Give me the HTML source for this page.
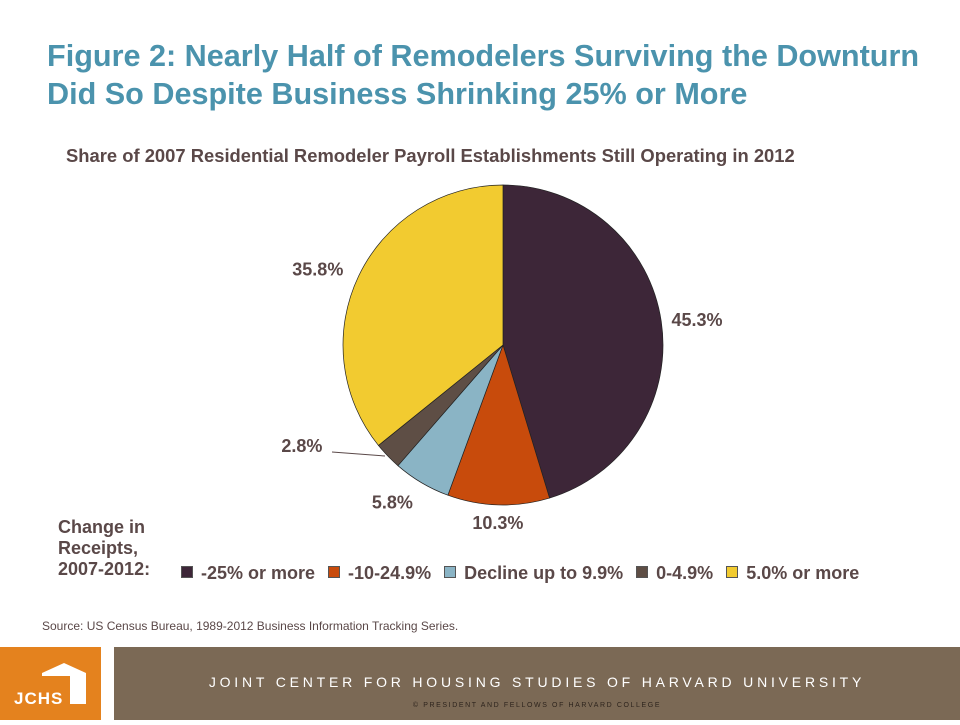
<!DOCTYPE html>
<html><head><meta charset="utf-8"><style>
body{margin:0;width:960px;height:720px;background:#fff;position:relative;overflow:hidden;font-family:"Liberation Sans",Arial,sans-serif}
.abs{position:absolute}
.title{left:47px;top:37px;font-size:30.6px;font-weight:bold;color:#4b93ad;line-height:38px;white-space:nowrap}
.sub{left:66px;top:145px;font-size:18.4px;font-weight:bold;color:#5a4848;white-space:nowrap}
.lbl{font-size:18px;font-weight:bold;fill:#5a4848}
.leg{font-size:18px;font-weight:bold;color:#5a4848}
</style></head><body>
<div class="abs title">Figure 2: Nearly Half of Remodelers Surviving the Downturn<br>Did So Despite Business Shrinking 25% or More</div>
<div class="abs sub">Share of 2007 Residential Remodeler Payroll Establishments Still Operating in 2012</div>
<svg class="abs" style="left:0;top:0" width="960" height="600">
<g id="slices"></g><g id="labels"></g>
<line x1="332" y1="452" x2="385" y2="456" stroke="#5a4848" stroke-width="1"/>
</svg>
<div class="abs leg" style="left:58px;top:517px;line-height:21px">Change in<br>Receipts,<br>2007-2012:</div>
<div class="abs leg" id="legend" style="left:181px;top:563px;white-space:nowrap"></div>
<div class="abs" style="left:42px;top:619px;font-size:12px;color:#5a4848">Source: US Census Bureau, 1989-2012 Business Information Tracking Series.</div>
<div class="abs" style="left:0;top:647px;width:101px;height:73px;background:#e4821e">
<svg width="101" height="73"><polygon points="42,26 64,16 86,26 86,57 70,57 70,29 42,29" fill="#fff"/><text x="14" y="57" font-size="17" font-weight="bold" fill="#fff" font-family="Liberation Sans,sans-serif" letter-spacing="1">JCHS</text></svg></div>
<div class="abs" style="left:114px;top:647px;width:846px;height:73px;background:#7b6955">
<div class="abs" style="left:0;width:846px;top:27px;text-align:center;color:#fff;font-size:14px;letter-spacing:3.8px">JOINT CENTER FOR HOUSING STUDIES OF HARVARD UNIVERSITY</div>
<div class="abs" style="left:0;width:846px;top:55px;text-align:center;color:#2e241d;font-size:7px;letter-spacing:1.6px">© PRESIDENT AND FELLOWS OF HARVARD COLLEGE</div>
</div>
<script>
const categories=["-25% or more","-10-24.9%","Decline up to 9.9%","0-4.9%","5.0% or more"];
const values=[45.3,10.3,5.8,2.8,35.8];
const valueLabels=["45.3%","10.3%","5.8%","2.8%","35.8%"];
const colors=["#3d2638","#c84b0c","#8ab4c5","#5e4e45","#f2cb30"];
const cx=503,cy=345,r=160;
const ns="http://www.w3.org/2000/svg";
const total=values.reduce((a,b)=>a+b,0);
const labelOff=[[14,2],[0,-4],[-18,1],[-70,-25],[-21,3]];
let a0=0;
const sg=document.getElementById('slices'),lg=document.getElementById('labels');
values.forEach((v,i)=>{
 const a1=a0+v/total*2*Math.PI;
 const p=a=>[cx+r*Math.sin(a),cy-r*Math.cos(a)];
 const [x0,y0]=p(a0),[x1,y1]=p(a1);
 const path=document.createElementNS(ns,'path');
 path.setAttribute('d',`M${cx},${cy}L${x0},${y0}A${r},${r} 0 ${a1-a0>Math.PI?1:0} 1 ${x1},${y1}Z`);
 path.setAttribute('fill',colors[i]);path.setAttribute('stroke','#222');path.setAttribute('stroke-width','0.7');
 
 
 sg.appendChild(path);
 const am=(a0+a1)/2,lr=r+22;
 const t=document.createElementNS(ns,'text');
 t.setAttribute('x',cx+lr*Math.sin(am)+labelOff[i][0]);t.setAttribute('y',cy-lr*Math.cos(am)+labelOff[i][1]+6);
 t.setAttribute('text-anchor','middle');t.setAttribute('class','lbl');t.textContent=valueLabels[i];
 
 
 lg.appendChild(t);
 a0=a1;
});
const leg=document.getElementById('legend');
categories.forEach((c,i)=>{
 const s=document.createElement('span');
 s.style.marginRight='13px';
 s.innerHTML=`<span style="display:inline-block;width:10px;height:10px;background:${colors[i]};border:1px solid #555;margin-right:8px;vertical-align:1px"></span>${c}`;
 
 
 leg.appendChild(s);
});
</script>
</body></html>
